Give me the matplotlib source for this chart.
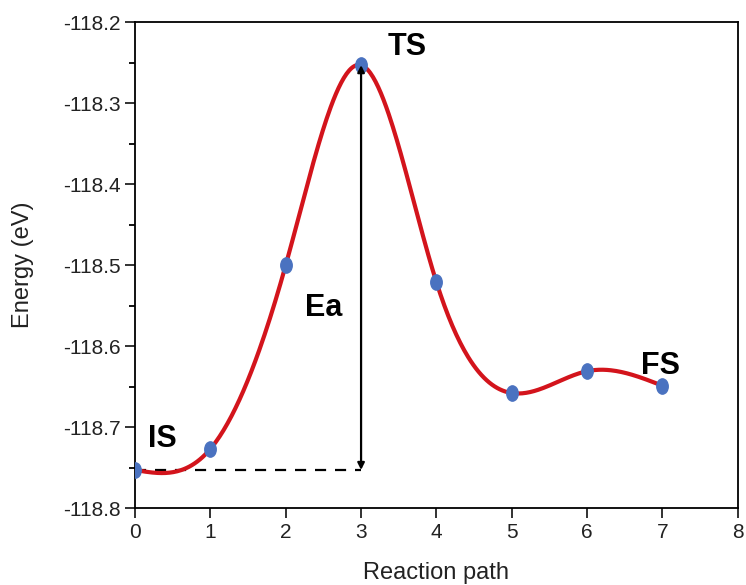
import numpy as np
import matplotlib
matplotlib.use("Agg")
import matplotlib.pyplot as plt
from matplotlib.path import Path

plt.rcParams['font.family'] = ['Liberation Sans', 'DejaVu Sans']

x_points = [0, 1, 2, 3, 4, 5, 6, 7]
energies = [-118.753, -118.727, -118.500, -118.253, -118.521, -118.658, -118.631, -118.649]
state_labels = ["IS", "TS", "Ea", "FS"]


def natural_spline(x, y, xs):
    x = np.asarray(x, float); y = np.asarray(y, float)
    n = len(x)
    h = np.diff(x)
    A = np.zeros((n, n)); b = np.zeros(n)
    A[0, 0] = 1; A[-1, -1] = 1
    for i in range(1, n - 1):
        A[i, i - 1] = h[i - 1]
        A[i, i] = 2 * (h[i - 1] + h[i])
        A[i, i + 1] = h[i]
        b[i] = 3 * ((y[i + 1] - y[i]) / h[i] - (y[i] - y[i - 1]) / h[i - 1])
    c = np.linalg.solve(A, b)
    bb = np.zeros(n - 1); d = np.zeros(n - 1)
    for i in range(n - 1):
        bb[i] = (y[i + 1] - y[i]) / h[i] - h[i] * (2 * c[i] + c[i + 1]) / 3
        d[i] = (c[i + 1] - c[i]) / (3 * h[i])
    idx = np.clip(np.searchsorted(x, xs) - 1, 0, n - 2)
    dx = xs - x[idx]
    return y[idx] + bb[idx] * dx + c[idx] * dx ** 2 + d[idx] * dx ** 3


fig = plt.figure(figsize=(7.46, 5.85), dpi=100)
ax = fig.add_axes([0.181, 0.1316, 0.808, 0.8304])

xs = np.linspace(x_points[0], x_points[-1], 400)
ys = natural_spline(x_points, energies, xs)
ax.plot(xs, ys, color='#d3141c', lw=3, zorder=2)

# elliptical marker (taller than wide)
ell = Path.unit_circle()
ell = Path(ell.vertices * np.array([0.75, 1.0]), ell.codes)
ax.plot(x_points, energies, linestyle='none', marker=ell, markersize=11,
        color='#4a72c0', zorder=3)

# Ea arrow and dashed baseline
ax.plot([x_points[0], x_points[3]], [energies[0], energies[0]], ls=(0, (5, 4)),
        color='black', lw=1.6, zorder=1)
ax.annotate('', xy=(x_points[3], energies[3]), xytext=(x_points[3], energies[0]),
            arrowprops=dict(arrowstyle='<|-|>', color='black', lw=1.6,
                            mutation_scale=10, shrinkA=0, shrinkB=0), zorder=4)

ax.text(0.17, -118.715, state_labels[0], fontsize=22, fontweight='bold', ha='left', va='center')
ax.text(3.35, -118.230, state_labels[1], fontsize=22, fontweight='bold', ha='left', va='center')
ax.text(2.25, -118.553, state_labels[2], fontsize=22, fontweight='bold', ha='left', va='center')
ax.text(6.72, -118.624, state_labels[3], fontsize=22, fontweight='bold', ha='left', va='center')

ax.set_xlim(0, 8)
ax.set_ylim(-118.8, -118.2)
ax.set_xticks(range(0, 9))
ax.set_yticks(np.round(np.arange(-118.8, -118.19, 0.1), 1))
ax.set_yticks(np.round(np.arange(-118.75, -118.2, 0.1), 2), minor=True)
ax.yaxis.set_major_formatter(matplotlib.ticker.FormatStrFormatter('%.1f'))
ax.tick_params(axis='both', which='major', direction='out', length=7, width=1.3,
               labelsize=15, right=False, top=False, colors='#222222')
ax.tick_params(axis='y', which='minor', direction='out', length=4, width=1.3)
for s in ax.spines.values():
    s.set_linewidth(1.3)

ax.set_xlabel('Reaction path', fontsize=17, labelpad=15, color='#222222')
ax.set_ylabel('Energy (eV)', fontsize=17, labelpad=21, color='#222222')

fig.savefig('out.png', dpi=100)
